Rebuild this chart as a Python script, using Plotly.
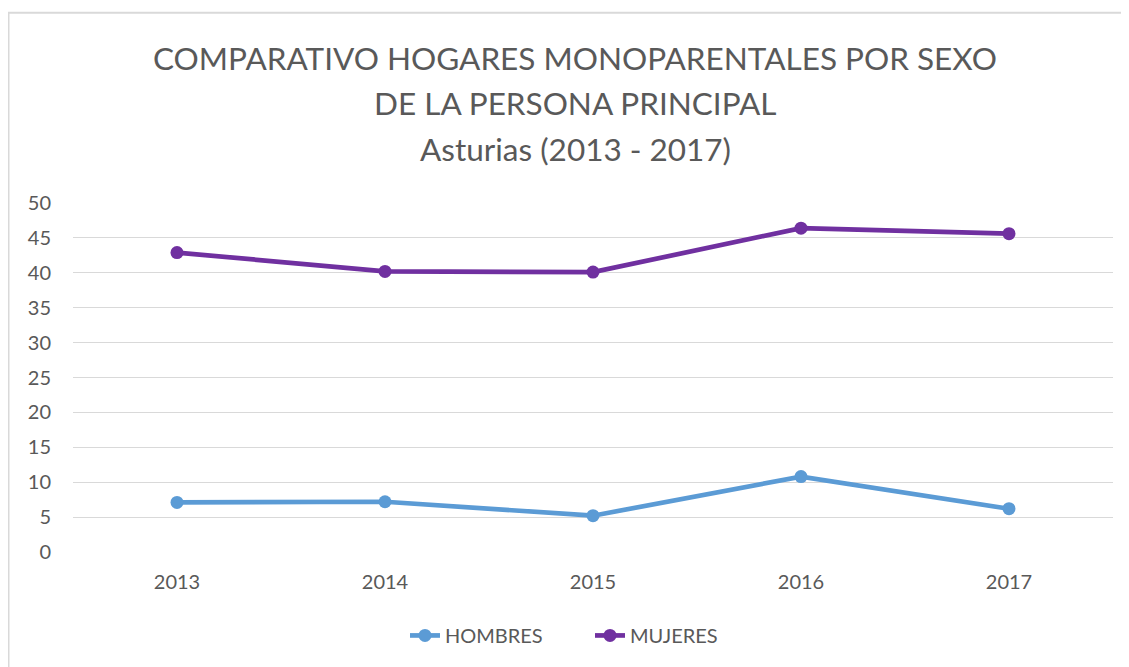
import plotly.graph_objects as go

years = ["2013", "2014", "2015", "2016", "2017"]
hombres = [7.1, 7.2, 5.2, 10.8, 6.2]
mujeres = [42.9, 40.2, 40.1, 46.4, 45.6]
y_ticks = [0, 5, 10, 15, 20, 25, 30, 35, 40, 45, 50]

OFF = 8  # page body margin offset
W, H = 1129 - OFF, 667 - OFF
# plot area in reference pixel coords
PL, PR, PT, PB = 73, 1113, 203.3, 551.7
L, R, T, B = PL - OFF, W - (PR - OFF), PT - OFF, H - (PB - OFF)
pw, ph = W - L - R, H - T - B

def px_x(x):
    return (x - OFF - L) / pw

def px_y(y):
    return (H - B - (y - OFF)) / ph

FONT = "Lato"
GREY = "#595959"

fig = go.Figure()
fig.add_trace(go.Scatter(x=years, y=hombres, name="HOMBRES", mode="lines+markers",
                         line=dict(color="#5B9BD5", width=4.7),
                         marker=dict(size=13, color="#5B9BD5")))
fig.add_trace(go.Scatter(x=years, y=mujeres, name="MUJERES", mode="lines+markers",
                         line=dict(color="#7030A0", width=4.7),
                         marker=dict(size=13, color="#7030A0")))

fig.update_layout(
    width=W, height=H,
    margin=dict(l=L, r=R, t=T, b=B),
    paper_bgcolor="white", plot_bgcolor="white",
    font=dict(family=FONT, color=GREY, size=20),
    showlegend=True,
    legend=dict(orientation="h", x=px_x(590), xanchor="center", y=px_y(635), yanchor="middle",
                font=dict(size=20, color=GREY), traceorder="normal",
                entrywidth=140, entrywidthmode="pixels"),
    xaxis=dict(type="category", range=[-0.5, 4.5], showgrid=False, showline=False,
               ticks="", tickfont=dict(size=20, color=GREY), ticklabelstandoff=16),
    yaxis=dict(range=[0, 50], tickvals=y_ticks, showgrid=True, gridcolor="#d9d9d9",
               gridwidth=1, zeroline=False, showline=False, ticks="",
               tickfont=dict(size=20, color=GREY), ticklabelstandoff=21),
)

titles = [("COMPARATIVO HOGARES MONOPARENTALES POR SEXO", 59),
          ("DE LA PERSONA PRINCIPAL", 103),
          ("Asturias (2013 - 2017)", 149)]
for txt, yy in titles:
    fig.add_annotation(text=txt, xref="paper", yref="paper", x=px_x(575), y=px_y(yy),
                       xanchor="center", yanchor="middle", showarrow=False,
                       font=dict(family=FONT, size=31.5, color=GREY))

fig.add_shape(type="rect", xref="paper", yref="paper",
              x0=px_x(8.5), x1=px_x(1129 + 20), y0=px_y(667 + 20), y1=px_y(13.5),
              line=dict(color="#d9d9d9", width=2), fillcolor="rgba(0,0,0,0)", layer="below")

fig.write_html("out.html")
